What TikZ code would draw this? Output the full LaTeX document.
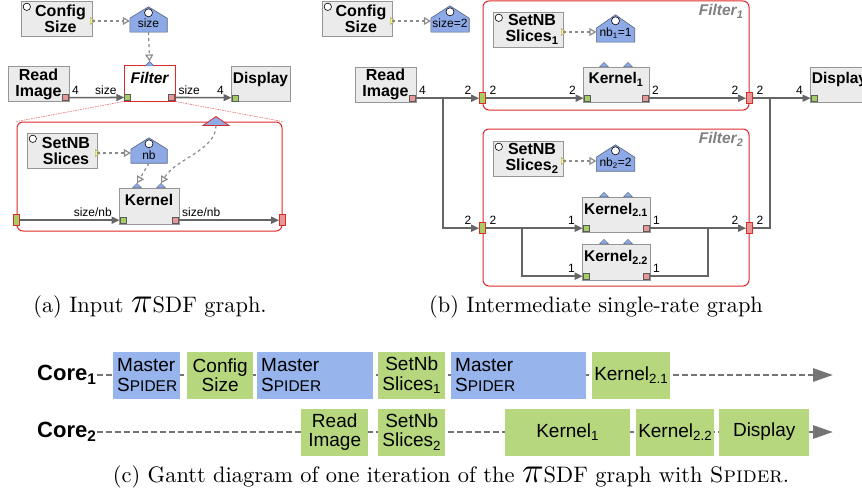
\documentclass[tikz,border=0pt]{standalone}
\usepackage{graphicx}
\usepackage{fontspec}
\setsansfont{Liberation Sans}
\usetikzlibrary{arrows.meta,backgrounds}
\definecolor{actfill}{HTML}{EBEBEB}
\definecolor{actline}{HTML}{969696}
\definecolor{prmfill}{HTML}{8EAAE6}
\definecolor{prmline}{HTML}{55637F}
\definecolor{hred}{HTML}{DC2A2A}
\definecolor{pgreen}{HTML}{A6CC66}
\definecolor{pred}{HTML}{E99696}
\definecolor{flow}{HTML}{656565}
\definecolor{gblue}{HTML}{97B4EC}
\definecolor{ggreen}{HTML}{B6D77E}
\begin{document}
\begin{tikzpicture}[x=1pt,y=-1pt,>={Triangle[length=8pt,width=7pt]},font=\sffamily]
 \tikzset{act/.style={draw=actline,fill=actfill,inner sep=2pt,align=center,text width=62pt,font=\fontsize{16}{16}\selectfont\sffamily\bfseries},
 ttl/.style={text height=15pt,text depth=16pt,text width=,font=\fontsize{15.5}{15.5}\selectfont\sffamily\bfseries},
 flt/.style={act,ttl,fill=white,draw=hred,line width=1pt,font=\fontsize{15.5}{15.5}\selectfont\sffamily\bfseries\itshape},
 prm/.style={inner sep=1pt,text height=20pt,text depth=3pt,font=\fontsize{12}{12}\selectfont\sffamily},
 hbox/.style={draw=hred,line width=1pt,rounded corners=6pt,inner sep=0pt},
 ipt/.style={draw=actline!60!black,fill=pgreen,minimum size=6pt,inner sep=0pt,line width=.4pt},
 opt/.style={ipt,fill=pred},
 iin/.style={draw=hred,fill=pgreen,minimum width=6pt,minimum height=11pt,inner sep=0pt,line width=.8pt},
 iout/.style={iin,fill=pred},
 fifo/.style={->,draw=flow,line width=1.6pt},
 dep/.style={draw=flow!75,dashed,line width=1.2pt,-{Triangle[open,length=7pt,width=8pt,fill=white]}},
 rate/.style={font=\fontsize{12}{12}\selectfont\sffamily,inner sep=1pt,yshift=1.5pt},
 rs/.style={rate,above right,at start,xshift=2pt},
 re/.style={rate,above left,at end,xshift=-6pt},
 ttlg/.style={anchor=north east,inner sep=1pt,text=actline!85!black,font=\fontsize{15.5}{15.5}\selectfont\sffamily\bfseries\itshape},
 gbx/.style={anchor=west,minimum height=47pt,inner sep=2pt,align=center,font=\fontsize{19}{19.5}\selectfont\sffamily},
 ggr/.style={gbx,fill=ggreen},
 gbl/.style={gbx,fill=gblue,inner sep=4pt,align=left,text width=#1},
 core/.style={anchor=west,inner sep=0pt,font=\fontsize{22}{22}\selectfont\sffamily\bfseries},
 tl/.style={draw=flow!90,line width=2.8pt,dash pattern=on 6pt off 3pt,-{Triangle[length=20pt,width=13pt]}},
 captxt/.style={font=\rmfamily\fontsize{10}{12}\selectfont}
 }
 \useasboundingbox (0,0) rectangle (862,495);
 \clip (0,0) rectangle (862,495);
 \node[hbox,minimum width=265pt,minimum height=109pt] (a-sub) at (149.5,176.5) {};
 \node[hbox,minimum width=266pt,minimum height=109pt] (b-f1) at (616,55.5) {};
 \node[hbox,minimum width=266pt,minimum height=157pt] (b-f2) at (616,207.5) {};
 \node[act,minimum width=71pt,minimum height=35pt] (a-cfg) at (56.5,18.5) {\hspace*{8pt}Config\\\hspace*{8pt}Size};
 \node[act,minimum width=61pt,minimum height=34pt,text width=57pt] (a-ri) at (38.5,84) {Read\\Image};
 \node[flt,minimum width=51pt,minimum height=35pt] (a-flt) at (149.5,83.5) {Filter};
 \node[act,ttl,minimum width=59pt,minimum height=34pt] (a-dsp) at (260.5,84) {Display};
 \node[act,minimum width=70pt,minimum height=35pt] (a-set) at (62,150.5) {\hspace*{8pt}SetNB\\\hspace*{8pt}Slices};
 \node[act,ttl,minimum width=60pt,minimum height=36pt] (a-krn) at (149,206) {Kernel};
 \node[prm,minimum width=37pt,minimum height=25pt] (a-sz) at (148.5,19.5) {size};
 \node[prm,minimum width=36pt,minimum height=25pt] (a-nb) at (149,150.5) {nb};
 \node[act,minimum width=70pt,minimum height=35pt] (b-cfg) at (357,18.5) {\hspace*{8pt}Config\\\hspace*{8pt}Size};
 \node[prm,minimum width=38pt,minimum height=26pt] (b-sz) at (450,19) {size=2};
 \node[act,minimum width=61pt,minimum height=35pt,text width=57pt] (b-ri) at (385.5,84.5) {Read\\Image};
 \node[act,ttl,minimum width=66pt,minimum height=35pt] (b-k1) at (616,84.5) {Kernel\textsubscript{1}};
 \node[act,ttl,minimum width=59pt,minimum height=35pt] (b-dsp) at (839.5,84.5) {Display};
 \node[act,minimum width=70pt,minimum height=35pt] (b-s1) at (528,29.5) {\hspace*{8pt}SetNB\\\hspace*{8pt}Slices\textsubscript{1}};
 \node[prm,minimum width=38pt,minimum height=27pt] (b-nb1) at (615.5,28.5) {nb\textsubscript{1}=1};
 \node[act,minimum width=70pt,minimum height=35pt] (b-s2) at (528,158.5) {\hspace*{8pt}SetNB\\\hspace*{8pt}Slices\textsubscript{2}};
 \node[prm,minimum width=38pt,minimum height=26pt] (b-nb2) at (615.5,158) {nb\textsubscript{2}=2};
 \node[act,ttl,minimum width=66pt,minimum height=35pt] (b-k21) at (616,214.5) {Kernel\textsubscript{2.1}};
 \node[act,ttl,minimum width=66pt,minimum height=36pt] (b-k22) at (616,262) {Kernel\textsubscript{2.2}};
 \node[ttlg] (b-f1-t) at ([xshift=-5pt,yshift=-3pt]b-f1.north east) {Filter\textsubscript{1}};
 \node[ttlg] (b-f2-t) at ([xshift=-5pt,yshift=-3pt]b-f2.north east) {Filter\textsubscript{2}};
 \foreach \n in {a-flt,a-dsp,a-krn,b-k1,b-k21,b-k22,b-dsp}
  \node[ipt] (\n-i) at ([xshift=4pt,yshift=4pt]\n.south west) {};
 \foreach \n in {a-ri,a-flt,a-krn,b-ri,b-k1,b-k21,b-k22}
  \node[opt] (\n-o) at ([xshift=-4pt,yshift=4pt]\n.south east) {};
 \node[iin] (a-sub-i) at (a-sub.west |- a-krn-i) {};
 \node[iout] (a-sub-o) at (a-sub.east |- a-krn-o) {};
 \node[iin] (b-f1-i) at (b-f1.west |- b-k1-i) {};
 \node[iout] (b-f1-o) at (b-f1.east |- b-k1-o) {};
 \node[iin] (b-f2-i) at (b-f2.west |- b-k21-i) {};
 \node[iout] (b-f2-o) at (b-f2.east |- b-k21-o) {};
 \foreach \n in {a-cfg,a-set,b-cfg,b-s1,b-s2}{
  \coordinate (\n-c) at ([yshift=-2.5pt]\n.east);
  \filldraw[fill=yellow!60,draw=actline,line width=.4pt] ([xshift=-2pt,yshift=3.5pt]\n-c) -- ([xshift=-2pt,yshift=-3.5pt]\n-c) -- ([xshift=3pt]\n-c) -- cycle;
  \filldraw[fill=white,draw=black,line width=.6pt] ([xshift=6pt,yshift=-6pt]\n.north west) circle (3.7pt);
 }
 \begin{pgfonlayer}{background}
 \foreach \p in {a-sz,a-nb,b-sz,b-nb1,b-nb2}
  \filldraw[fill=prmfill,draw=prmline,line width=.6pt] (\p.south west) -- ([yshift=14pt]\p.south west) -- (\p.north) -- ([yshift=14pt]\p.south east) -- (\p.south east) -- cycle;
 \end{pgfonlayer}
 \foreach \p in {a-sz,a-nb,b-sz,b-nb1,b-nb2}
  \filldraw[fill=white,draw=black,line width=.6pt] ([yshift=-6pt]\p.north) circle (4pt);
 \coordinate (a-flt-p) at ([yshift=4pt]a-flt.north);
 \foreach \n in {a-krn,b-k1,b-k21,b-k22}{
  \coordinate (\n-p1) at ([xshift=-12pt,yshift=4.5pt]\n.north);
  \coordinate (\n-p2) at ([xshift=12pt,yshift=4.5pt]\n.north);
  \filldraw[fill=prmfill,draw=prmline,line width=.4pt] (\n-p1) -- ++(-4.5,4.5) -- ++(9,0) -- cycle (\n-p2) -- ++(-4.5,4.5) -- ++(9,0) -- cycle;
 }
 \filldraw[fill=prmfill,draw=prmline,line width=.4pt] (a-flt-p) -- ++(-4.5,4.5) -- ++(9,0) -- cycle;
 \coordinate (a-sub-p) at ([xshift=66.5pt,yshift=5pt]a-sub.north);
 \filldraw[fill=prmfill,draw=hred,line width=.8pt] (a-sub-p) -- ++(-13,9) -- ++(26,0) -- cycle;
 \draw[hred!70,line width=.6pt,dash pattern=on 1.5pt off 1pt] (a-flt.south west) -- (a-sub.north west) (a-flt.south east) -- (a-sub.north east);
 \draw[dep] (a-cfg-c) -- (a-cfg-c -| a-sz.west);
 \draw[dep] (a-sz.south) -- (a-flt-p);
 \draw[dep] (a-set-c) -- (a-set-c -| a-nb.west);
 \draw[dep] (a-nb.south) -- (a-krn-p1);
 \draw[dep] ([yshift=-9pt]a-sub-p) .. controls +(0,25) and +(15,-25) .. (a-krn-p2);
 \draw[dep] (b-cfg-c) -- (b-cfg-c -| b-sz.west);
 \draw[dep] (b-s1-c) -- (b-s1-c -| b-nb1.west);
 \draw[dep] (b-s2-c) -- (b-s2-c -| b-nb2.west);
 \draw[fifo] (a-ri-o.east) -- (a-flt-i.west) node[rs] (a-l1) {4} node[re] (a-l2) {size};
 \draw[fifo] (a-flt-o.east) -- (a-dsp-i.west) node[rs] (a-l3) {size} node[re] (a-l4) {4};
 \draw[fifo] (a-sub-i.east) -- (a-krn-i.west) node[re] (a-l5) {size/nb};
 \draw[fifo] (a-krn-o.east) -- (a-sub-o.west) node[rs] (a-l6) {size/nb};
 \coordinate (b-sp1) at (443,0 |- b-ri-o);
 \coordinate (b-sp2) at (770,0 |- b-f1-o);
 \coordinate (b-sp3) at (522,0 |- b-f2-i);
 \coordinate (b-sp4) at (708,0 |- b-f2-o);
 \draw[fifo] (b-ri-o.east) -- (b-f1-i.west) node[rs] (b-l1) {4} node[re] (b-l2) {2};
 \draw[fifo] (b-sp1) |- (b-f2-i.west) node[re] (b-l3) {2};
 \draw[fifo] (b-f1-i.east) -- (b-k1-i.west) node[rs] (b-l4) {2} node[re] (b-l5) {2};
 \draw[fifo] (b-k1-o.east) -- (b-f1-o.west) node[rs] (b-l6) {2} node[re] (b-l7) {2};
 \draw[fifo] (b-f1-o.east) -- (b-dsp-i.west) node[rs] (b-l8) {2} node[re] (b-l9) {4};
 \draw[fifo,-] (b-f2-o.east) -| (b-sp2) node[rs] (b-l10) {2};
 \draw[fifo] (b-f2-i.east) -- (b-k21-i.west) node[rs] (b-l11) {2} node[re] (b-l12) {1};
 \draw[fifo] (b-sp3) |- (b-k22-i.west) node[re] (b-l13) {1};
 \draw[fifo] (b-k21-o.east) -- (b-f2-o.west) node[rs] (b-l14) {1} node[re] (b-l15) {2};
 \draw[fifo,-] (b-k22-o.east) -| (b-sp4) node[rs] (b-l16) {1};
 \node[core] (c-c1) at (37,375) {Core\textsubscript{1}};
 \node[core] (c-c2) at (37,432) {Core\textsubscript{2}};
 \coordinate (c-e1) at (833,375);
 \coordinate (c-e2) at (833,432);
 \draw[tl] (c-c1.east) -- (c-e1);
 \draw[tl] (c-c2.east) -- (c-e2);
 \node[gbl=59pt,minimum width=67pt] (g-m1) at (113,375) {Master\\S{\fontsize{15.5}{15.5}\selectfont PIDER}};
 \node[ggr,minimum width=66pt] (g-cs) at (187,375) {Config\\Size};
 \node[gbl=108pt,minimum width=116pt] (g-m2) at (257,375) {Master\\S{\fontsize{15.5}{15.5}\selectfont PIDER}};
 \node[ggr,minimum width=67pt] (g-sn1) at (378,375) {SetNb\\Slices\textsubscript{1}};
 \node[gbl=127pt,minimum width=135pt] (g-m3) at (451,375) {Master\\S{\fontsize{15.5}{15.5}\selectfont PIDER}};
 \node[ggr,minimum width=78pt] (g-k21) at (592,375) {Kernel\textsubscript{2.1}};
 \node[ggr,minimum width=67pt] (g-ri) at (301,432) {Read\\Image};
 \node[ggr,minimum width=67pt] (g-sn2) at (378,432) {SetNb\\Slices\textsubscript{2}};
 \node[ggr,minimum width=125pt] (g-k1) at (505,432) {Kernel\textsubscript{1}};
 \node[ggr,minimum width=78pt] (g-k22) at (636,432) {Kernel\textsubscript{2.2}};
 \node[ggr,minimum width=90pt] (g-dsp) at (719,432) {Display};
 \node[captxt] (cap-a) at (150,307) {\scalebox{2.24}{(a) Input \scalebox{1.6}{$\pi$}SDF graph.}};
 \node[captxt] (cap-b) at (596,307) {\scalebox{2.24}{(b) Intermediate single-rate graph}};
 \node[captxt] (cap-c) at (451,477) {\scalebox{2.24}{(c) Gantt diagram of one iteration of the \scalebox{1.6}{$\pi$}SDF graph with \textsc{Spider}.}};
\end{tikzpicture}
\end{document}
